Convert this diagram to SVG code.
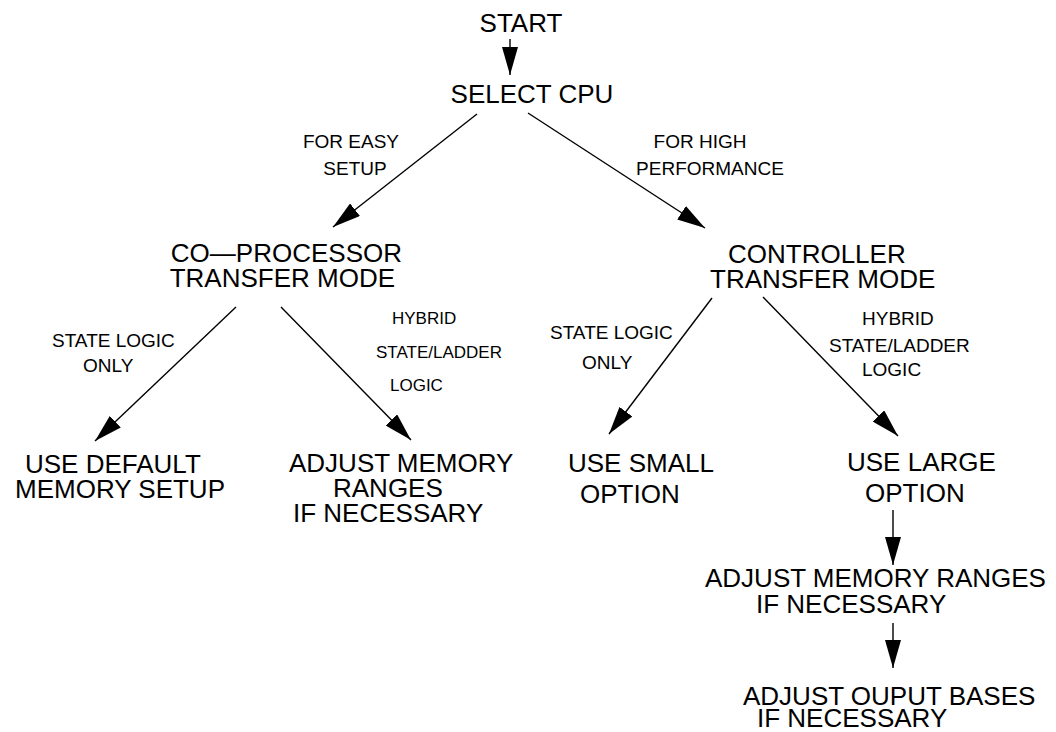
<svg xmlns="http://www.w3.org/2000/svg" width="1056" height="732" viewBox="0 0 1056 732">
<style>
  text { font-family: "Liberation Sans", Arial, sans-serif; fill: #000; }
  .n { font-size: 26px; }
  .l { font-size: 19px; }
  .s { font-size: 17px; }
  .c { stroke: #000; stroke-width: 1.4; fill: none; marker-end: url(#ah); }
</style>
<defs>
  <marker id="ah" viewBox="0 0 28 16" markerWidth="28" markerHeight="16" refX="28" refY="8" orient="auto" markerUnits="userSpaceOnUse">
    <path d="M0,0 L28,8 L0,16 Z" fill="#000"/>
  </marker>
</defs>
<rect width="1056" height="732" fill="#fff"/>
<g id="connectors">
  <line class="c" x1="510" y1="39" x2="510" y2="75"/>
  <line class="c" x1="477" y1="114" x2="333" y2="227"/>
  <line class="c" x1="528" y1="113" x2="705" y2="228"/>
  <line class="c" x1="236" y1="307" x2="95" y2="441"/>
  <line class="c" x1="281" y1="307" x2="411" y2="440"/>
  <line class="c" x1="712" y1="298" x2="609" y2="434"/>
  <line class="c" x1="763" y1="297" x2="898" y2="436"/>
  <line class="c" x1="893" y1="510" x2="893" y2="565"/>
  <line class="c" x1="893" y1="623" x2="893" y2="668"/>
</g>
<g id="labels">
  <text class="l" x="351" y="148" text-anchor="middle">FOR EASY</text>
  <text class="l" x="355" y="175" text-anchor="middle">SETUP</text>
  <text class="l" x="700" y="148" text-anchor="middle">FOR HIGH</text>
  <text class="l" x="710" y="175" text-anchor="middle">PERFORMANCE</text>
  <text class="l" x="52" y="347">STATE LOGIC</text>
  <text class="l" x="83" y="372">ONLY</text>
  <text class="s" x="392" y="324">HYBRID</text>
  <text class="s" x="376" y="358">STATE/LADDER</text>
  <text class="s" x="390" y="391">LOGIC</text>
  <text class="l" x="550" y="339">STATE LOGIC</text>
  <text class="l" x="582" y="369">ONLY</text>
  <text class="l" x="862" y="325">HYBRID</text>
  <text class="l" x="829" y="352">STATE/LADDER</text>
  <text class="l" x="862" y="376">LOGIC</text>
</g>
<g id="start"><text class="n" x="521" y="32" text-anchor="middle">START</text></g>
<g id="select-cpu"><text class="n" x="532" y="103" text-anchor="middle">SELECT CPU</text></g>
<g id="coprocessor">
  <text class="n" x="402" y="262" text-anchor="end">CO—PROCESSOR</text>
  <text class="n" x="395" y="287" text-anchor="end">TRANSFER MODE</text>
</g>
<g id="controller">
  <text class="n" x="728" y="263">CONTROLLER</text>
  <text class="n" x="710" y="288">TRANSFER MODE</text>
</g>
<g id="default-memory">
  <text class="n" x="25" y="473">USE DEFAULT</text>
  <text class="n" x="15" y="498">MEMORY SETUP</text>
</g>
<g id="adjust-memory-left">
  <text class="n" x="289" y="472">ADJUST MEMORY</text>
  <text class="n" x="333" y="497">RANGES</text>
  <text class="n" x="293" y="522">IF NECESSARY</text>
</g>
<g id="small-option">
  <text class="n" x="568" y="472">USE SMALL</text>
  <text class="n" x="580" y="503">OPTION</text>
</g>
<g id="large-option">
  <text class="n" x="847" y="471">USE LARGE</text>
  <text class="n" x="865" y="502">OPTION</text>
</g>
<g id="adjust-memory-right">
  <text class="n" x="705" y="587">ADJUST MEMORY RANGES</text>
  <text class="n" x="756" y="613">IF NECESSARY</text>
</g>
<g id="adjust-output">
  <text class="n" x="743" y="705">ADJUST OUPUT BASES</text>
  <text class="n" x="757" y="727">IF NECESSARY</text>
</g>
</svg>
